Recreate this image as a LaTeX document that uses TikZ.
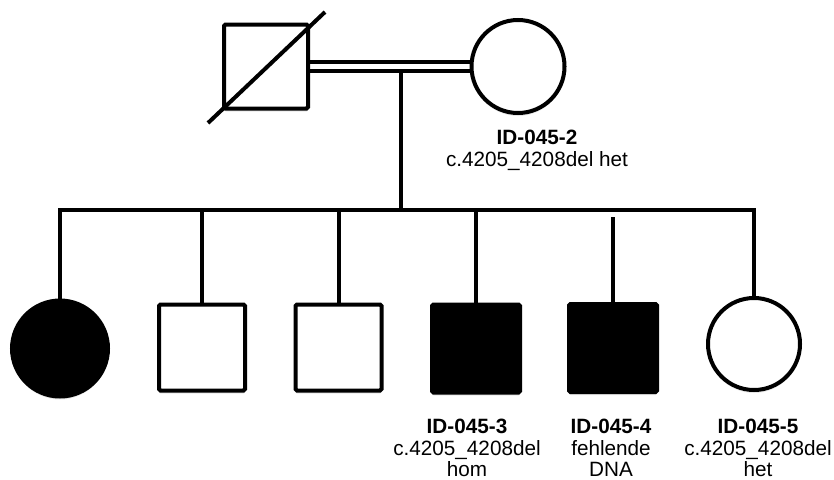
\documentclass[tikz,border=0pt]{standalone}
\usepackage{fontspec}
\setmainfont{Liberation Sans}
\usetikzlibrary{shadows}
\begin{document}
\begin{tikzpicture}[x=1pt,y=-1pt,
  sym/.style={draw=black, line width=4pt, inner sep=0pt,
    drop shadow={opacity=0.18, shadow xshift=0pt, shadow yshift=-3pt}},
  malebox/.style={sym, rectangle, rounded corners=1.5pt, fill=white},
  femalecirc/.style={sym, circle, fill=white},
  affected/.style={fill=black},
  pline/.style={line width=4pt, line join=miter},
  lab/.style={anchor=base, inner sep=0pt, font=\fontsize{20.7pt}{21.5pt}\selectfont},
  labb/.style={lab, font=\fontsize{20.7pt}{21.5pt}\selectfont\bfseries}
]
\useasboundingbox (0,0) rectangle (834,479);

% parents
\node[malebox, minimum size=84pt] (f) at (266,66.5) {};
\node[femalecirc, minimum size=93pt] (m) at (518,66.5) {};
\coordinate (s1) at (208,123);
\coordinate (s2) at (325,12);
\draw[pline] (s1) -- (s2);
\draw[pline] ([yshift=4.5pt]f.east) -- ([yshift=4.5pt]m.west);
\draw[pline] ([yshift=-4.5pt]f.east) -- ([yshift=-4.5pt]m.west);

% children
\node[femalecirc, affected, minimum size=96pt] (c1) at (60,348.5) {};
\node[malebox, minimum size=86pt] (c2) at (202,347.5) {};
\node[malebox, minimum size=86pt] (c3) at (338.5,347.5) {};
\node[malebox, affected, minimum size=88pt] (c4) at (476,348.5) {};
\node[malebox, affected, minimum size=88pt] (c5) at (613,348) {};
\node[femalecirc, minimum size=92pt] (c6) at (754,344) {};

% lines of descent
\coordinate (cpl) at (401,69);
\coordinate (sib) at (401,211);
\draw[pline] (cpl) -- (sib);
\coordinate (L) at (60,210);
\coordinate (R) at (754,210);
\draw[pline] (c1.north) -- (L) -- (R) -- (c6.north);
\draw[pline] (c2.north) -- (c2.north |- L);
\draw[pline] (c3.north) -- (c3.north |- L);
\draw[pline] (c4.north) -- (c4.north |- L);
\coordinate (g5) at (613,217);
\draw[pline] (c5.north) -- (g5);

% labels
\node[labb] (l2a) at (537,144) {ID-045-2};
\node[lab]  (l2b) at (537,166) {c.4205\_4208del het};

\node[labb] (l3a) at (467,433) {ID-045-3};
\node[lab]  (l3b) at (467,455) {c.4205\_4208del};
\node[lab]  (l3c) at (467,476) {hom};

\node[labb] (l4a) at (611,433) {ID-045-4};
\node[lab]  (l4b) at (611,455) {fehlende};
\node[lab]  (l4c) at (611,476) {DNA};

\node[labb] (l5a) at (758,433) {ID-045-5};
\node[lab]  (l5b) at (758,455) {c.4205\_4208del};
\node[lab]  (l5c) at (758,476) {het};
\end{tikzpicture}
\end{document}
